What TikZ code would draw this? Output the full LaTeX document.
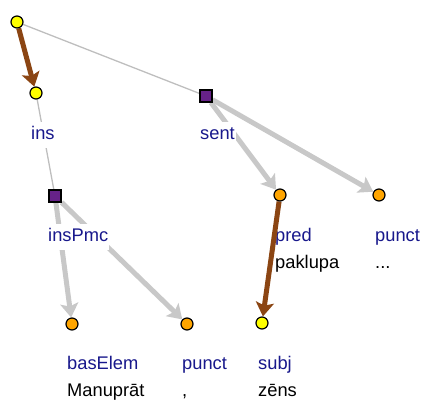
\documentclass[tikz,border=0pt]{standalone}
\usepackage{fontspec}
\setmainfont{Liberation Sans}
\usetikzlibrary{arrows.meta}
\definecolor{lblblue}{RGB}{24,24,140}
\definecolor{edgegray}{RGB}{200,200,200}
\definecolor{thingray}{RGB}{190,190,190}
\definecolor{brownedge}{RGB}{139,69,19}
\definecolor{nodepurple}{RGB}{102,34,136}
\definecolor{nodeorange}{RGB}{255,165,0}
\definecolor{nodeyellow}{RGB}{255,255,0}
\pgfdeclarelayer{grayl}
\pgfdeclarelayer{lbll}
\pgfdeclarelayer{brownl}
\pgfsetlayers{grayl,lbll,brownl,main}
\begin{document}
\begin{tikzpicture}[x=1pt,y=-1pt,
  tok/.style={circle, draw=black, line width=1.2pt, minimum size=12pt, inner sep=0pt},
  ytok/.style={tok, fill=nodeyellow},
  otok/.style={tok, fill=nodeorange},
  phr/.style={rectangle, draw=black, line width=1.2pt, fill=nodepurple, minimum size=12pt, inner sep=0pt},
  lbl/.style={anchor=base west, text=lblblue, font=\fontsize{18.3}{21}\selectfont, fill=white, inner xsep=1pt, inner ysep=4pt, text height=14pt, text depth=4pt},
  wrd/.style={anchor=base west, text=black, font=\fontsize{18.3}{21}\selectfont, inner xsep=1pt, inner ysep=0pt},
  thin/.style={draw=thingray, line width=1.3pt},
  garrow/.style={draw=edgegray, line width=5pt, -{Stealth[length=14pt, width=18pt, inset=3pt]}},
  barrow/.style={draw=brownedge, line width=5pt, -{Stealth[length=14pt, width=18pt, inset=3pt]}}
]
\useasboundingbox (0,0) rectangle (424,403);
% nodes
\node[ytok] (root) at (17,22) {};
\node[ytok] (ins) at (36,93) {};
\node[phr] (sent) at (206,96) {};
\node[phr] (insPmc) at (55,196) {};
\node[otok] (pred) at (280,195) {};
\node[otok] (punctB) at (379,195) {};
\node[otok] (basElem) at (72,324) {};
\node[otok] (punctA) at (187,324) {};
\node[ytok] (subj) at (262,323) {};
% labels
\begin{pgfonlayer}{lbll}
\node[lbl] (lins) at (30,140) {ins};
\node[lbl] (lsent) at (199,140) {sent};
\node[lbl] (linsPmc) at (47,242) {insPmc};
\node[lbl] (lpred) at (274,242) {pred};
\node[lbl] (lpunctB) at (374,242) {punct};
\node[wrd] (wpred) at (274,269) {paklupa};
\node[wrd] (wpunctB) at (374,269) {...};
\node[lbl] (lbasElem) at (66,370) {basElem};
\node[lbl] (lpunctA) at (181,370) {punct};
\node[lbl] (lsubj) at (257,370) {subj};
\node[wrd] (wbasElem) at (66,397) {Manuprāt};
\node[wrd] (wpunctA) at (181,397) {,};
\node[wrd] (wsubj) at (257,397) {zēns};
\end{pgfonlayer}
% gray edges
\begin{pgfonlayer}{grayl}
\draw[thin] (root) -- (sent);
\draw[thin] (ins) -- (insPmc);
\draw[garrow] (sent) -- (pred);
\draw[garrow] (sent) -- (punctB);
\draw[garrow] (insPmc) -- (basElem);
\draw[garrow] (insPmc) -- (punctA);
\end{pgfonlayer}
% brown edges
\begin{pgfonlayer}{brownl}
\draw[barrow] (root) -- (ins);
\draw[barrow] (pred) -- (subj);
\end{pgfonlayer}
\end{tikzpicture}
\end{document}
